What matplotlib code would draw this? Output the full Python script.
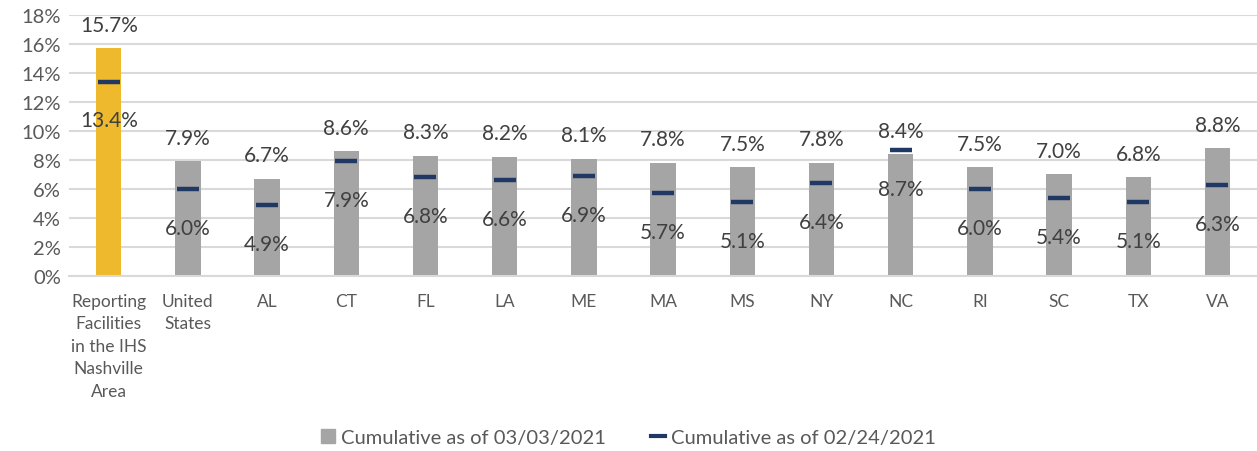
import matplotlib.pyplot as plt
from matplotlib.lines import Line2D
from matplotlib.patches import Patch

# Data
categories = ['Reporting\nFacilities\nin the IHS\nNashville\nArea', 'United\nStates', 'AL', 'CT', 'FL', 'LA',
              'ME', 'MA', 'MS', 'NY', 'NC', 'RI', 'SC', 'TX', 'VA']
current = [15.7, 7.9, 6.7, 8.6, 8.3, 8.2, 8.1, 7.8, 7.5, 7.8, 8.4, 7.5, 7.0, 6.8, 8.8]
previous = [13.4, 6.0, 4.9, 7.9, 6.8, 6.6, 6.9, 5.7, 5.1, 6.4, 8.7, 6.0, 5.4, 5.1, 6.3]

plt.rcParams['font.family'] = ['Lato', 'DejaVu Sans']

bar_colors = ['#EFB92D'] + ['#A5A5A5'] * (len(categories) - 1)
text_color = '#404040'

fig = plt.figure(figsize=(12.57, 4.52), dpi=100)
ax = fig.add_axes([0.055, 0.387, 0.945, 0.578])

x = list(range(len(categories)))
ax.bar(x, current, width=0.32, color=bar_colors, zorder=2)
ax.scatter(x, previous, marker='_', s=260, linewidths=3.2, color='#203864', zorder=3)

for xi, c, p in zip(x, current, previous):
    ax.annotate(f'{c:.1f}%', (xi, c), xytext=(0, 17), textcoords='offset points',
                ha='center', va='center', fontsize=15, color=text_color)
    ax.annotate(f'{p:.1f}%', (xi, p), xytext=(0, -28), textcoords='offset points',
                ha='center', va='center', fontsize=15, color=text_color)

ax.set_xlim(-0.5, len(categories) - 0.5)
ax.set_ylim(0, 18)
ax.set_yticks(range(0, 19, 2))
ax.set_yticklabels([f'{v}%' for v in range(0, 19, 2)], fontsize=14.5, color='#595959')
ax.set_xticks(x)
ax.set_xticklabels(categories, fontsize=12.5, color='#595959', linespacing=1.5, va='top')
ax.tick_params(axis='both', length=0)
ax.tick_params(axis='x', pad=12)
ax.tick_params(axis='y', pad=6)
ax.grid(axis='y', color='#D9D9D9', linewidth=1.5, zorder=0)
for s in ['top', 'right', 'left']:
    ax.spines[s].set_visible(False)
ax.spines['bottom'].set_color('#D9D9D9')
ax.spines['bottom'].set_linewidth(1.5)

handles = [Patch(color='#A5A5A5', label='Cumulative as of 03/03/2021'),
           Line2D([], [], color='#203864', linewidth=3, label='Cumulative as of 02/24/2021')]
fig.legend(handles=handles, loc='center', bbox_to_anchor=(0.5, 0.03), ncol=2, frameon=False,
           fontsize=14.5, labelcolor='#595959', handlelength=0.7, handleheight=0.7,
           columnspacing=2.2, handletextpad=0.3)

fig.savefig('out.png', dpi=100)
